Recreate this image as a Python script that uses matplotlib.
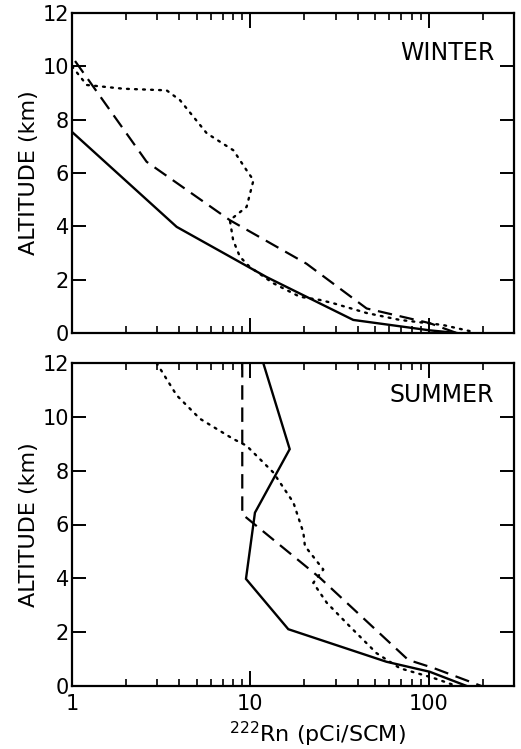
import numpy as np
import matplotlib
matplotlib.use('Agg')
import matplotlib.pyplot as plt
from matplotlib.ticker import LogLocator, FixedLocator, NullFormatter

# Winter profiles (Rn-222 in pCi/SCM vs altitude km)
winter_solid_x = [1.0, 3.86, 12.3, 37.7, 101, 143]
winter_solid_alt = [7.54, 3.98, 2.1, 0.49, 0.1, 0.0]
winter_dash_x = [1.04, 2.62, 7.67, 20.6, 44.8, 101, 143]
winter_dash_alt = [10.2, 6.42, 4.23, 2.6, 0.92, 0.37, 0.0]
winter_dot_x = [1.0, 1.21, 1.94, 3.39, 4.03, 5.69, 8.03, 9.52, 10.4, 9.52, 7.67,
                8.0, 8.73, 9.9, 13.4, 18.9, 24.5, 29, 44.8, 68.8, 120, 175]
winter_dot_alt = [10.0, 9.3, 9.16, 9.1, 8.73, 7.49, 6.85, 6.1, 5.73, 4.73, 4.23,
                  3.48, 2.86, 2.48, 1.87, 1.36, 1.24, 1.12, 0.75, 0.49, 0.3, 0.05]

# Summer profiles
summer_solid_x = [11.8, 16.6, 10.6, 9.44, 16.3, 57.9, 101, 163]
summer_solid_alt = [12.0, 8.8, 6.44, 3.98, 2.11, 0.9, 0.53, 0.0]
summer_dash_x = [9.0, 9.0, 24.5, 76.6, 106, 197]
summer_dash_alt = [12.0, 6.38, 4.02, 0.97, 0.67, 0.0]
summer_dot_x = [2.98, 3.86, 5.21, 8.0, 9.5, 13.4, 17.4, 19.8, 20.2, 25.6, 22.5,
                26.8, 36.1, 50.9, 68.8, 106, 143]
summer_dot_alt = [12.0, 10.8, 9.93, 9.18, 8.93, 7.94, 6.82, 5.70, 5.2, 4.33, 3.83,
                  3.09, 2.21, 1.22, 0.66, 0.3, 0.0]

yticks = [0, 2, 4, 6, 8, 10, 12]
xtick_vals = [1, 10, 100]
xtick_labels = ['1', '10', '100']

plt.rcParams['font.family'] = ['DejaVu Sans']

W, H = 521, 749
fig = plt.figure(figsize=(W / 100, H / 100), dpi=100)

def make_ax(top, bottom, left=72, right=514):
    return fig.add_axes([left / W, 1 - bottom / H, (right - left) / W, (bottom - top) / H])

ax1 = make_ax(13, 333)
ax2 = make_ax(363, 686)

panels = [
    (ax1, 'WINTER', (winter_solid_x, winter_solid_alt), (winter_dash_x, winter_dash_alt),
     (winter_dot_x, winter_dot_alt)),
    (ax2, 'SUMMER', (summer_solid_x, summer_solid_alt), (summer_dash_x, summer_dash_alt),
     (summer_dot_x, summer_dot_alt)),
]

for ax, season, solid, dash, dot in panels:
    ax.plot(solid[0], solid[1], color='black', lw=1.7, solid_joinstyle='miter')
    ax.plot(dash[0], dash[1], color='black', lw=1.6, dashes=(6.5, 3.5))
    ax.plot(dot[0], dot[1], color='black', lw=1.7, linestyle=(0, (0.8, 2.6)),
            dash_capstyle='round')
    ax.set_xscale('log')
    ax.set_xlim(1, 300)
    ax.set_ylim(0, 12)
    ax.yaxis.set_major_locator(FixedLocator(yticks))
    ax.xaxis.set_major_locator(FixedLocator(xtick_vals))
    ax.xaxis.set_minor_locator(LogLocator(base=10, subs=np.arange(2, 10)))
    ax.xaxis.set_minor_formatter(NullFormatter())
    ax.tick_params(axis='y', which='major', direction='in', left=True, right=True,
                   length=10, width=1.4, labelsize=15, pad=2)
    ax.tick_params(axis='x', which='major', direction='in', top=True, bottom=True,
                   length=11, width=1.4, labelsize=15, pad=6)
    ax.tick_params(axis='x', which='minor', direction='in', top=True, bottom=True,
                   length=5, width=1.2)
    for sp in ax.spines.values():
        sp.set_linewidth(1.6)
    ax.set_ylabel('ALTITUDE (km)', fontsize=16, labelpad=3)
    ax.text(0.955, 0.875 if season == 'WINTER' else 0.9, season, transform=ax.transAxes,
            ha='right', va='center', fontsize=17)

ax1.set_xticklabels([])
ax2.set_xticklabels(xtick_labels)
ax2.set_xlabel('$^{222}$Rn (pCi/SCM)', fontsize=16)
ax2.xaxis.set_label_coords(0.556, -0.105)

fig.savefig('out.png', dpi=100)
